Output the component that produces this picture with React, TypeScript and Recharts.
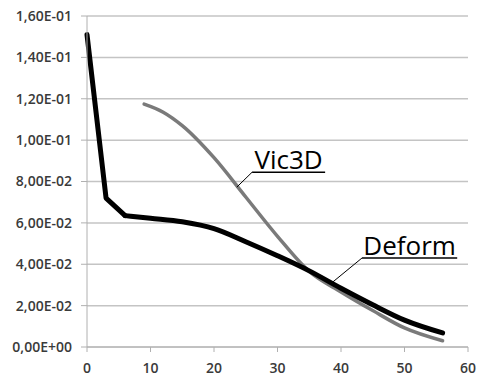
import React from 'react';
import { LineChart, Line, XAxis, YAxis, CartesianGrid, ReferenceLine } from 'recharts';

// Deform (black) curve: sharp drop at the start, smooth afterwards
const deformX = [0, 3, 6, 10, 15, 20, 25, 30, 35, 40, 45, 50, 56];
const deformY = [0.151, 0.072, 0.0635, 0.0622, 0.0605, 0.0572, 0.0509, 0.0441, 0.0368, 0.0284, 0.0204, 0.013, 0.0068];

// Vic3D (gray) curve
const vicX = [9, 12, 15, 20, 25, 30, 35, 40, 45, 50, 56];
const vicY = [0.1174, 0.1135, 0.107, 0.0915, 0.0725, 0.0535, 0.0365, 0.0266, 0.0176, 0.0092, 0.003];

const xTicks = [0, 10, 20, 30, 40, 50, 60];
const yTicks = [0, 0.02, 0.04, 0.06, 0.08, 0.1, 0.12, 0.14, 0.16];

const deformData = deformX.map((x, i) => ({ x, y: deformY[i] }));
const deformHead = deformData.slice(0, 3);
const deformTail = deformData.slice(2);
const vicData = vicX.map((x, i) => ({ x, y: vicY[i] }));

const sci = (v: number) => {
  const [m, e] = v.toExponential(2).split('e');
  const sign = e[0] === '-' ? '-' : '+';
  const digits = e.replace(/[+-]/, '').padStart(2, '0');
  return `${m.replace('.', ',')}E${sign}${digits}`;
};

const tickStyle = { fontFamily: 'Open Sans', fontSize: 14, fontWeight: 600, fill: '#3a3a3a' };
const labelStyle = { fill: '#000', fontFamily: 'Open Sans', fontSize: 26 };

export default function App() {
  return (
    <div style={{ position: 'absolute', left: 0, top: 0, background: '#fff' }}>
      <LineChart width={478} height={380} margin={{ top: 16, right: 10, left: 0, bottom: 0 }}>
        <CartesianGrid horizontal vertical={false} stroke="#c4c4c4" strokeWidth={1.5} />
        <XAxis
          type="number"
          dataKey="x"
          domain={[0, 60]}
          ticks={xTicks}
          height={33}
          stroke="#b0b0b0"
          tickSize={5}
          tick={tickStyle}
          tickMargin={11}
        />
        <YAxis
          type="number"
          domain={[0, 0.16]}
          ticks={yTicks}
          width={87}
          stroke="#b0b0b0"
          tickSize={6}
          tickMargin={9}
          tick={tickStyle}
          tickFormatter={sci}
        />
        <Line
          data={vicData}
          dataKey="y"
          type="monotone"
          stroke="#7a7a7a"
          strokeWidth={3.5}
          strokeLinecap="round"
          dot={false}
          isAnimationActive={false}
        />
        <Line
          data={deformHead}
          dataKey="y"
          type="linear"
          stroke="#000"
          strokeWidth={5}
          strokeLinejoin="round"
          strokeLinecap="round"
          dot={false}
          isAnimationActive={false}
        />
        <Line
          data={deformTail}
          dataKey="y"
          type="monotone"
          stroke="#000"
          strokeWidth={5}
          strokeLinecap="round"
          dot={false}
          isAnimationActive={false}
        />
        <ReferenceLine
          segment={[{ x: 23.6, y: 0.0773 }, { x: 26, y: 0.0845 }]}
          stroke="#000"
          strokeWidth={1}
        />
        <ReferenceLine
          segment={[{ x: 26, y: 0.0845 }, { x: 37.5, y: 0.0845 }]}
          stroke="#000"
          strokeWidth={1.5}
          label={{ value: 'Vic3D', position: 'top', offset: 3, ...labelStyle }}
        />
        <ReferenceLine
          segment={[{ x: 38.7, y: 0.0314 }, { x: 43.3, y: 0.043 }]}
          stroke="#000"
          strokeWidth={1}
        />
        <ReferenceLine
          segment={[{ x: 43.3, y: 0.043 }, { x: 58.3, y: 0.043 }]}
          stroke="#000"
          strokeWidth={1.5}
          label={{ value: 'Deform', position: 'top', offset: 3, ...labelStyle }}
        />
      </LineChart>
    </div>
  );
}
